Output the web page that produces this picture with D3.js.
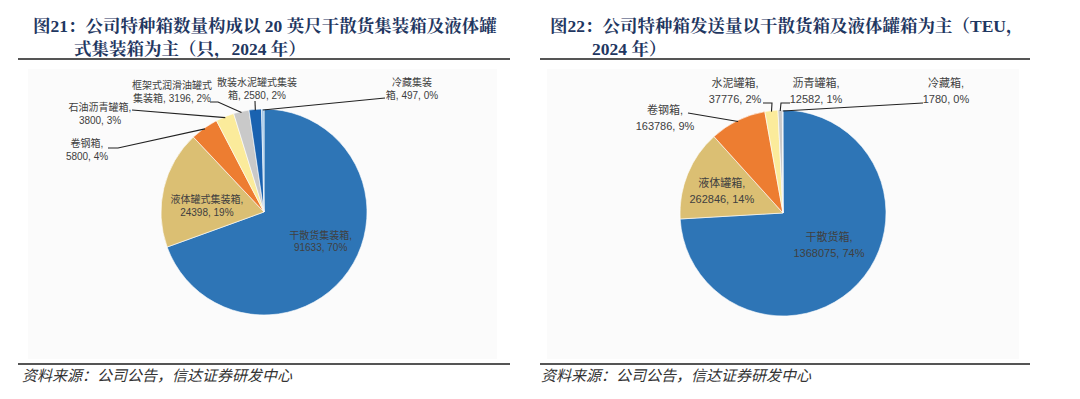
<!DOCTYPE html>
<html>
<head>
<meta charset="utf-8">
<script src="https://cdn.jsdelivr.net/npm/d3@7"></script>
<style>
  body { margin: 0; background: #fff; }
  text { font-family: "Liberation Sans", "Noto Sans CJK SC", sans-serif; }
  .title { font-family: "Liberation Serif", "Noto Serif CJK SC", "Noto Sans CJK SC", serif; font-weight: bold; fill: #1f3761; font-size: 17.5px; }
  .src { font-style: italic; fill: #333; font-size: 15px; }
  .lbl { fill: #404040; }
</style>
</head>
<body>
<div id="chart"></div>
<script>
// chart 21: count of special containers (units, 2024)
var names1 = ["干散货集装箱", "液体罐式集装箱", "卷钢箱", "石油沥青罐箱", "框架式润滑油罐式集装箱", "散装水泥罐式集装箱", "冷藏集装箱"];
var values1 = [91633, 24398, 5800, 3800, 3196, 2580, 497];
var pcts1 = ["70%", "19%", "4%", "3%", "2%", "2%", "0%"];
// chart 22: shipments (TEU, 2024)
var names2 = ["干散货箱", "液体罐箱", "卷钢箱", "水泥罐箱", "沥青罐箱", "冷藏箱"];
var values2 = [1368075, 262846, 163786, 37776, 12582, 1780];
var pcts2 = ["74%", "14%", "9%", "2%", "1%", "0%"];

var colors1 = ["#2e75b6", "#dbbf73", "#ed7d31", "#fbeb9b", "#c9c9c9", "#1a62b0", "#9dc3e6"];
var colors2 = ["#2e75b6", "#dbbf73", "#ed7d31", "#fbeb9b", "#c9c9c9", "#a9c4de"];

var svg = d3.select("#chart").append("svg").attr("width", 1080).attr("height", 399);

// panels
svg.append("rect").attr("x", 28).attr("y", 69).attr("width", 469).attr("height", 290).attr("fill", "#fbfbfb");
svg.append("rect").attr("x", 547).attr("y", 69).attr("width", 472).attr("height", 290).attr("fill", "#fbfbfb");

// titles
svg.append("text").attr("class", "title").attr("x", 33).attr("y", 32).text("图21：公司特种箱数量构成以 20 英尺干散货集装箱及液体罐");
svg.append("text").attr("class", "title").attr("x", 74).attr("y", 55).text("式集装箱为主（只，2024 年）");
svg.append("text").attr("class", "title").attr("x", 550).attr("y", 32).text("图22：公司特种箱发送量以干散货箱及液体罐箱为主（TEU，");
svg.append("text").attr("class", "title").attr("x", 592).attr("y", 55).text("2024 年）");

[[18, 510], [540, 1030]].forEach(function (d) {
  svg.append("line").attr("x1", d[0]).attr("x2", d[1]).attr("y1", 59).attr("y2", 59).attr("stroke", "#555").attr("stroke-width", 2);
  svg.append("line").attr("x1", d[0]).attr("x2", d[1]).attr("y1", 364).attr("y2", 364).attr("stroke", "#555").attr("stroke-width", 2);
});
svg.append("text").attr("class", "src").attr("x", 22).attr("y", 381).text("资料来源：公司公告，信达证券研发中心");
svg.append("text").attr("class", "src").attr("x", 541).attr("y", 381).text("资料来源：公司公告，信达证券研发中心");

function drawPie(cx, cy, r, values, colors, labels, fs, lh) {
  var g = svg.append("g").attr("transform", "translate(" + cx + "," + cy + ")");
  var pie = d3.pie().sort(null).value(function (d) { return d; });
  var arcs = pie(values);
  var arc = d3.arc().innerRadius(0).outerRadius(r);
  g.selectAll("path.slice").data(arcs).enter().append("path")
    .attr("class", "slice")
    .attr("d", arc)
    .attr("fill", function (d, i) { return colors[i]; })
    .attr("stroke", "#fff").attr("stroke-width", 0.6);

  labels.forEach(function (L) {
    var a = arcs[L.i];
    var mid = (a.startAngle + a.endAngle) / 2;
    var tx, ty;
    if (L.inside) {
      var c = d3.arc().innerRadius(0).outerRadius(r * 1.2).centroid(a);
      tx = c[0] + L.dx; ty = c[1] + L.dy;
    } else {
      tx = L.x - cx; ty = L.y - cy;
      var ex = Math.sin(mid) * (r - 1), ey = -Math.cos(mid) * (r - 1);
      var pts = L.pts.map(function (p) { return [p[0] - cx, p[1] - cy]; });
      pts.push([ex, ey]);
      g.append("path").attr("d", d3.line()(pts)).attr("fill", "none").attr("stroke", "#222").attr("stroke-width", 1.1);
    }
    var t = g.append("text").attr("class", "lbl").attr("text-anchor", "middle").style("font-size", fs + "px");
    var n = L.lines.length;
    L.lines.forEach(function (s, k) {
      t.append("tspan").attr("x", tx).attr("y", ty + (k - (n - 1) / 2) * lh + fs * 0.36).text(s);
    });
  });
}

var lab1 = [
  { i: 0, inside: true, dx: 6, dy: -6, lines: [names1[0] + ",", values1[0] + ", " + pcts1[0]] },
  { i: 1, inside: true, dx: 3, dy: 8, lines: [names1[1] + ",", values1[1] + ", " + pcts1[1]] },
  { i: 2, x: 87, y: 150, pts: [[108, 148], [118, 148]], lines: ["卷钢箱,", values1[2] + ", " + pcts1[2]] },
  { i: 3, x: 100, y: 114, pts: [[132, 110]], lines: ["石油沥青罐箱,", values1[3] + ", " + pcts1[3]] },
  { i: 4, x: 172, y: 92, pts: [[210, 102], [218, 102]], lines: ["框架式润滑油罐式", "集装箱, " + values1[4] + ", " + pcts1[4]] },
  { i: 5, x: 257, y: 89, pts: [[255, 101]], lines: ["散装水泥罐式集装", "箱, " + values1[5] + ", " + pcts1[5]] },
  { i: 6, x: 412, y: 89, pts: [[385, 98]], lines: ["冷藏集装", "箱, " + values1[6] + ", " + pcts1[6]] }
];
var lab2 = [
  { i: 0, inside: true, dx: 1, dy: -10, lines: [names2[0] + ",", values2[0] + ", " + pcts2[0]] },
  { i: 1, inside: true, dx: -4, dy: 1, lines: [names2[1] + ",", values2[1] + ", " + pcts2[1]] },
  { i: 2, x: 665, y: 118, pts: [[688, 113]], lines: [names2[2] + ",", values2[2] + ", " + pcts2[2]] },
  { i: 3, x: 735, y: 91, pts: [[763, 103], [772, 103]], lines: [names2[3] + ",", values2[3] + ", " + pcts2[3]] },
  { i: 4, x: 816, y: 91, pts: [[790, 103], [781, 103]], lines: [names2[4] + ",", values2[4] + ", " + pcts2[4]] },
  { i: 5, x: 946, y: 91, pts: [[923, 103]], lines: [names2[5] + ",", values2[5] + ", " + pcts2[5]] }
];

drawPie(264, 212, 103, values1, colors1, lab1, 10, 12.5);
drawPie(783, 213, 103, values2, colors2, lab2, 11, 16);
</script>
</body>
</html>
